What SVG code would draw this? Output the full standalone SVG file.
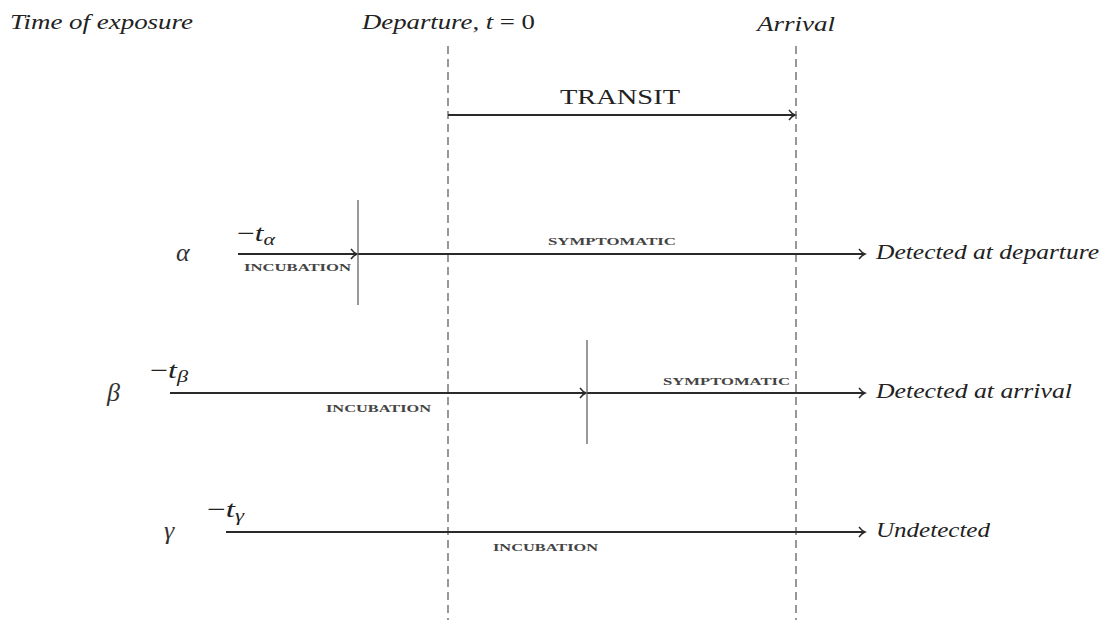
<svg xmlns="http://www.w3.org/2000/svg" width="1102" height="620" viewBox="0 0 1102 620">
<style>
.it{font-family:"Liberation Serif","DejaVu Serif",serif;font-style:italic;font-size:21px;fill:#222}
.rm{font-family:"Liberation Serif","DejaVu Serif",serif;font-size:20px;fill:#222}
.mt{font-family:"Liberation Serif","DejaVu Serif",serif;font-size:23px;fill:#222}
.gk{font-family:"Liberation Serif","DejaVu Serif",serif;font-style:italic;font-size:26px;fill:#333}
.sc{font-family:"Liberation Serif","DejaVu Serif",serif;font-size:11px;font-weight:bold;fill:#444}
.ln{stroke:#2a2a2a;stroke-width:2;fill:none}
.dash{stroke:#444;stroke-width:1.1;stroke-dasharray:8,5;fill:none}
.tick{stroke:#555;stroke-width:1.2;fill:none}
.sub{font-size:16px}
</style>
<defs>
<marker id="arr" markerWidth="10" markerHeight="14" refX="8" refY="7" orient="auto" markerUnits="userSpaceOnUse">
<path d="M2,2 Q5,6 8,7 Q5,8 2,12" fill="none" stroke="#2a2a2a" stroke-width="1.4"/>
</marker>
</defs>
<rect width="1102" height="620" fill="#fff"/>
<g id="headers">
<text class="it" x="10" y="29" textLength="183" lengthAdjust="spacingAndGlyphs">Time of exposure</text>
<text class="it" x="362" y="29" textLength="173" lengthAdjust="spacingAndGlyphs">Departure, t<tspan font-style="normal"> = 0</tspan></text>
<text class="it" x="757" y="31" textLength="78" lengthAdjust="spacingAndGlyphs">Arrival</text>
</g>
<g id="connectors">
<line class="dash" x1="448" y1="46" x2="448" y2="620"/>
<line class="dash" x1="796" y1="46" x2="796" y2="620"/>
<line class="ln" x1="448" y1="115" x2="795" y2="115" marker-end="url(#arr)"/>
<line class="ln" x1="238" y1="254" x2="357" y2="254" marker-end="url(#arr)"/>
<line class="ln" x1="358" y1="254" x2="865" y2="254" marker-end="url(#arr)"/>
<line class="tick" x1="358" y1="200" x2="358" y2="305"/>
<line class="ln" x1="170" y1="393" x2="586" y2="393" marker-end="url(#arr)"/>
<line class="ln" x1="587" y1="393" x2="865" y2="393" marker-end="url(#arr)"/>
<line class="tick" x1="587" y1="340" x2="587" y2="444"/>
<line class="ln" x1="226" y1="532" x2="865" y2="532" marker-end="url(#arr)"/>
</g>
<g id="transit">
<text class="rm" x="560" y="104" textLength="120" lengthAdjust="spacingAndGlyphs">TRANSIT</text>
</g>
<g id="alpha">
<text class="gk" x="176" y="261">α</text>
<text class="mt" x="237" y="241" textLength="38" lengthAdjust="spacingAndGlyphs">−<tspan font-style="italic">t</tspan><tspan class="sub" font-style="italic" dy="4">α</tspan></text>
<text class="sc" x="244" y="271" textLength="107" lengthAdjust="spacingAndGlyphs">INCUBATION</text>
<text class="sc" x="548" y="245" textLength="128" lengthAdjust="spacingAndGlyphs">SYMPTOMATIC</text>
<text class="it" x="876" y="259" textLength="223" lengthAdjust="spacingAndGlyphs">Detected at departure</text>
</g>
<g id="beta">
<text class="gk" x="107" y="401">β</text>
<text class="mt" x="150" y="378" textLength="38" lengthAdjust="spacingAndGlyphs">−<tspan font-style="italic">t</tspan><tspan class="sub" font-style="italic" dy="4">β</tspan></text>
<text class="sc" x="326" y="412" textLength="105" lengthAdjust="spacingAndGlyphs">INCUBATION</text>
<text class="sc" x="663" y="385" textLength="127" lengthAdjust="spacingAndGlyphs">SYMPTOMATIC</text>
<text class="it" x="876" y="398" textLength="196" lengthAdjust="spacingAndGlyphs">Detected at arrival</text>
</g>
<g id="gamma">
<text class="gk" x="164" y="539">γ</text>
<text class="mt" x="207" y="517" textLength="37" lengthAdjust="spacingAndGlyphs">−<tspan font-style="italic">t</tspan><tspan class="sub" font-style="italic" dy="4">γ</tspan></text>
<text class="sc" x="493" y="551" textLength="105" lengthAdjust="spacingAndGlyphs">INCUBATION</text>
<text class="it" x="876" y="537" textLength="114" lengthAdjust="spacingAndGlyphs">Undetected</text>
</g>
</svg>
